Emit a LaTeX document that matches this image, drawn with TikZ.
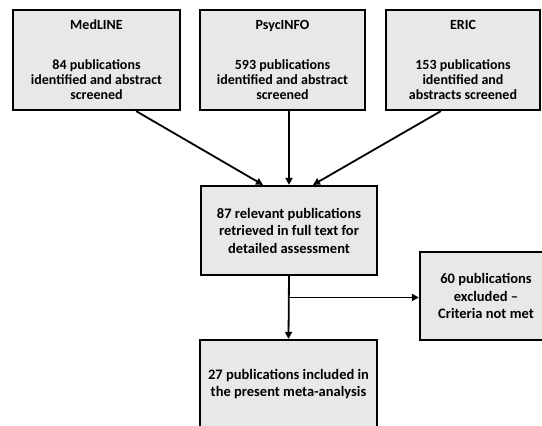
\documentclass[tikz,border=0pt]{standalone}
\usepackage{fontspec}
\setmainfont{Carlito}
\usepackage{tikz}
\usetikzlibrary{arrows.meta, calc}
\definecolor{flowGray}{rgb}{0.91, 0.91, 0.91}

\begin{document}
\begin{tikzpicture}[x=1pt, y=-1pt,
	box/.style={draw=black, fill=flowGray, line width=2.25pt, inner sep=0pt, align=center, font=\bfseries\fontsize{14.5}{17.5}\selectfont},
	source/.style={box, minimum height=100, font=\bfseries\fontsize{14}{15}\selectfont},
	flow/.style={line width=1.8pt, -{Triangle[length=7pt, width=7pt]}}]

	\clip (0,0) rectangle (542,426);

	% databases
	\node[source, minimum width=167] (medline) at (96.5,60) {MedLINE\\[25pt]84 publications\\identified and abstract\\screened};
	\node[source, minimum width=165] (psycinfo) at (282.5,60) {PsycINFO\\[25pt]593 publications\\identified and abstract\\screened};
	\node[source, minimum width=154] (eric) at (463,60) {ERIC\\[25pt]153 publications\\identified and\\abstracts screened};

	\node[box, minimum width=176, minimum height=89] (retrieved) at (289,230.5) {87 relevant publications\\retrieved in full text for\\detailed assessment};
	\node[box, minimum width=132, minimum height=88] (excluded) at (486,296) {60 publications\\excluded --\\Criteria not met};
	\node[box, minimum width=177, minimum height=88] (included) at (288.5,384) {27 publications included in\\the present meta-analysis};

	\draw[flow] ($ (medline.south east)+(-45,0) $) -- ($ (retrieved.north)+(-26,0) $);
	\draw[flow] (retrieved.north |- psycinfo.south) -- (retrieved.north);
	\draw[flow] ($ (eric.south west)+(56,0) $) -- ($ (retrieved.north)+(24,0) $);

	\coordinate (split) at ($ (retrieved.south)!0.34!(included.north) $);
	\draw[flow] (retrieved.south) -- (included.north);
	\draw[flow] (split) -- (split -| excluded.west);

\end{tikzpicture}
\end{document}
